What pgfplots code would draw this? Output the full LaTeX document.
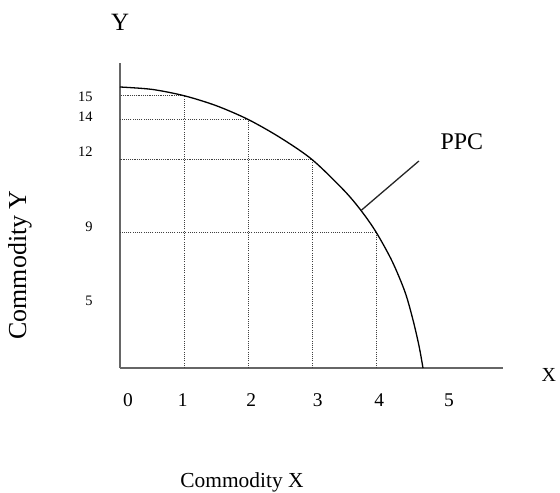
\documentclass[border=0pt]{standalone}
\usepackage{fontspec}
\setmainfont{Liberation Serif}
\usepackage{pgfplots}
\pgfplotsset{compat=1.18}
\begin{document}
\begin{tikzpicture}
\useasboundingbox (-120bp,-125bp) rectangle (440bp,368bp);
\begin{axis}[
  at={(0,0)}, anchor=south west,
  scale only axis, width=383bp, height=305bp,
  xmin=0, xmax=5.984, ymin=0, ymax=305,
  axis lines=left,
  axis line style={-, line width=1.7bp, draw=black!60},
  major tick length=0, tick style={draw=none},
  xtick={0.125,0.98,2.05,3.09,4.05,5.14},
  xticklabels={0,1,2,3,4,5},
  xticklabel style={anchor=base, yshift=-38.5bp, font=\fontsize{19.5}{20}\selectfont},
  ytick={67,141,216,251,271},
  yticklabels={5,9,12,14,15},
  yticklabel style={anchor=east, xshift=-24bp, font=\fontsize{14.5}{15}\selectfont},
  xlabel={Commodity X},
  xlabel style={at={(axis description cs:0.3185,-0.374)}, anchor=center, font=\fontsize{21.5}{22}\selectfont},
  ylabel={Commodity Y},
  ylabel style={at={(axis description cs:-0.261,0.338)}, anchor=center, rotate=0, font=\fontsize{26}{26}\selectfont},
  clip=false,
]
% dotted guide lines
\addplot[black!75, line width=0.8bp, dash pattern=on 1.1bp off 1.1bp] coordinates {(1,0) (1,272.3) (0,272.3)};
\addplot[black!75, line width=0.8bp, dash pattern=on 1.1bp off 1.1bp] coordinates {(2,0) (2,248.6) (0,248.6)};
\addplot[black!75, line width=0.8bp, dash pattern=on 1.1bp off 1.1bp] coordinates {(3,0) (3,208.5) (0,208.5)};
\addplot[black!75, line width=0.8bp, dash pattern=on 1.1bp off 1.1bp] coordinates {(4,0) (4,136) (0,136)};
% PPC curve
\addplot[black, line width=1.3bp, smooth] coordinates {
 (0,281) (0.5,278.6) (1,272.3) (1.5,262.4) (2,248.6) (2.5,230.5) (3,208.5)
 (3.5,177.6) (3.766,157.5) (4,136) (4.25,107) (4.453,76) (4.578,48) (4.672,22) (4.734,0)};
% pointer
\draw[black!85, line width=1.3bp] (axis cs:4.67,207) -- (axis cs:3.766,157.5);
\node[font=\fontsize{24}{24}\selectfont] at (axis cs:5.34,226) {PPC};
\node[font=\fontsize{25}{25}\selectfont] at (axis cs:0,346) {Y};
\node[font=\fontsize{20}{20}\selectfont] at (axis cs:6.70,-7) {X};
\end{axis}
\end{tikzpicture}
\end{document}
